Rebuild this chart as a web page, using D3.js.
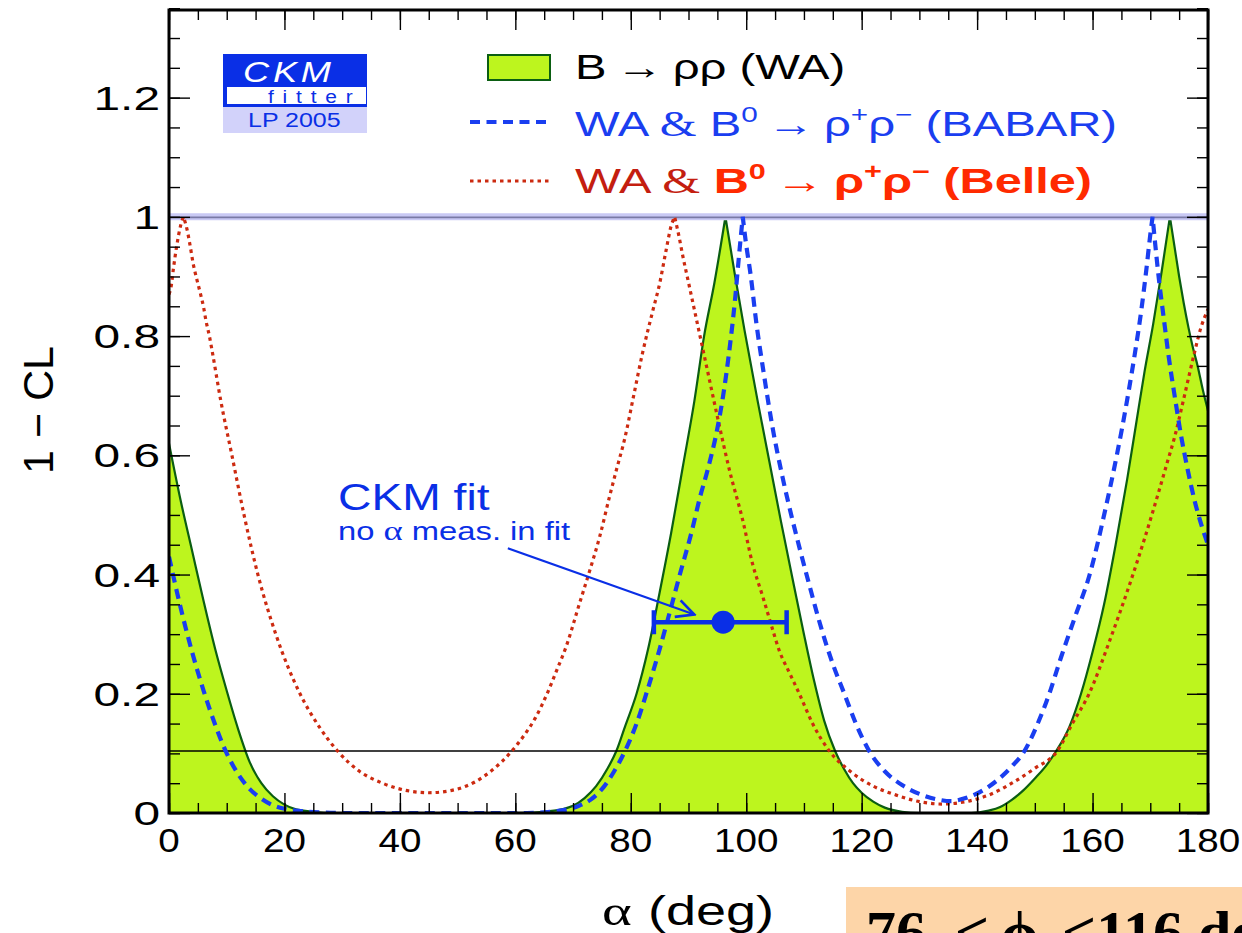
<!DOCTYPE html>
<html>
<head>
<meta charset="utf-8">
<script src="https://cdn.jsdelivr.net/npm/d3@7"></script>
<style>
  html, body { margin: 0; padding: 0; background: #ffffff; overflow: hidden; }
  svg { display: block; }
</style>
</head>
<body>
<svg id="chart" width="1242" height="933"></svg>
<script>
// ---- alpha scan: 1 - CL versus alpha (deg) ----
// B -> rho rho world average (filled)
const alphaWA = [0, 2, 4, 6, 8, 10, 12, 14, 16, 18, 20, 22, 25, 28, 60, 65, 68, 70, 72, 74, 76, 77.5, 79, 81, 83, 85, 87, 89, 91, 92.7, 94.5, 96.4,
  98, 99.7, 102, 104, 106, 108.3, 110, 111.8, 113.5, 115.4, 117, 118.5, 120, 122, 124, 127, 130, 139, 142, 144, 146, 148, 150, 152, 153.7, 156,
  158, 160, 162, 164, 166, 167.5, 169, 170.5, 172, 173.4, 174.2, 175, 175.8, 176.6, 177.4, 178.2, 179.1, 180];
const clWA = [0.62, 0.525, 0.44, 0.355, 0.275, 0.205, 0.14, 0.085, 0.05, 0.028, 0.014, 0.006, 0.002, 0, 0, 0.002, 0.006, 0.012, 0.025, 0.045, 0.075, 0.104, 0.145, 0.2, 0.275, 0.37, 0.47, 0.58, 0.69, 0.8, 0.89, 1.0,
  0.905, 0.81, 0.69, 0.59, 0.49, 0.38, 0.3, 0.22, 0.155, 0.104, 0.073, 0.05, 0.034, 0.019, 0.009, 0.002, 0, 0, 0.004, 0.01, 0.022, 0.038, 0.058, 0.08, 0.104, 0.145,
  0.2, 0.27, 0.35, 0.45, 0.56, 0.65, 0.74, 0.82, 0.91, 1.0, 0.95, 0.9, 0.855, 0.815, 0.78, 0.75, 0.71, 0.675];

// WA & B0 -> rho+ rho- (BABAR)
const alphaBabar = [0, 2, 4, 6, 8, 10, 12, 14, 16, 18, 20, 23, 26, 30, 62, 66, 69, 71, 73, 75, 77, 79, 81, 83, 85, 86.7, 88.5, 90.5, 92, 93.3, 95, 96, 97, 98, 98.8, 99.4,
  99.9, 100.8, 101.7, 103, 104.5, 106.3, 107.8, 109.2, 111, 113, 115, 117, 119, 121.3, 124, 127, 130, 133, 135.5, 138, 141, 143.5, 146, 148.2, 150.5, 152.5,
  154.5, 157, 159.5, 162, 164.2, 165.1, 166.3, 167.4, 168.4, 169.3, 170, 170.4, 170.9, 171.5, 172.4, 173.2, 174.3, 175.3, 176.5, 177.6, 178.8, 180];
const clBabar = [0.43, 0.345, 0.27, 0.205, 0.148, 0.1, 0.065, 0.04, 0.024, 0.013, 0.007, 0.003, 0.001, 0, 0, 0.002, 0.006, 0.012, 0.022, 0.04, 0.068, 0.104, 0.15, 0.21, 0.275, 0.335, 0.4, 0.47, 0.53, 0.575, 0.645, 0.7, 0.77, 0.855, 0.94, 1.0,
  0.96, 0.9, 0.826, 0.74, 0.65, 0.563, 0.5, 0.446, 0.38, 0.31, 0.25, 0.2, 0.15, 0.104, 0.07, 0.047, 0.032, 0.023, 0.02, 0.025, 0.038, 0.055, 0.078, 0.104, 0.15, 0.2,
  0.26, 0.33, 0.4, 0.5, 0.6, 0.645, 0.71, 0.775, 0.84, 0.91, 0.97, 1.0, 0.95, 0.895, 0.825, 0.765, 0.695, 0.635, 0.575, 0.527, 0.485, 0.45];

// WA & B0 -> rho+ rho- (Belle)
const alphaBelle = [0, 0.4, 0.75, 1.3, 2, 2.5, 3.1, 3.6, 4.2, 4.8, 5.4, 6, 6.4, 7, 7.4, 9, 10.9, 13, 15.4, 18.5, 22.7, 26, 29.2, 33, 37, 41, 45, 49, 53, 56, 59.4, 61.5, 63.5, 65.5,
  67.2, 68.8, 71.1, 72.9, 74.6, 76.3, 77.5, 79, 80.5, 82, 83.8, 85, 86.1, 87, 87.6, 88.4, 89, 90, 91, 92, 93, 95, 97.1, 99.4, 101.1, 102.9, 104.6, 105.7, 107.5,
  109.2, 111.5, 114.4, 118, 122, 126, 130, 134, 138, 142, 146, 150, 153.9, 156.5, 159.4, 163, 166.3, 169, 171.5, 173, 174.2, 175.8, 177.6, 178.8, 180];
const clBelle = [0.87, 0.885, 0.912, 0.949, 0.985, 1.0, 0.98, 0.955, 0.921, 0.896, 0.873, 0.848, 0.826, 0.8, 0.779, 0.69, 0.6, 0.5, 0.4, 0.3, 0.2, 0.145, 0.104, 0.07, 0.05, 0.038, 0.034, 0.038, 0.052, 0.072, 0.104, 0.13, 0.16, 0.2,
  0.24, 0.279, 0.351, 0.407, 0.463, 0.53, 0.575, 0.63, 0.7, 0.77, 0.842, 0.888, 0.943, 0.985, 1.0, 0.965, 0.935, 0.89, 0.845, 0.8, 0.755, 0.665, 0.575, 0.491, 0.418, 0.362, 0.307, 0.273, 0.235,
  0.2, 0.15, 0.104, 0.07, 0.045, 0.03, 0.019, 0.015, 0.019, 0.03, 0.05, 0.075, 0.104, 0.15, 0.2, 0.29, 0.38, 0.46, 0.54, 0.59, 0.63, 0.695, 0.77, 0.815, 0.845];

// CKM fit prediction (no alpha measurement in the fit)
const ckmFit = { central: 96, low: 84, high: 107, level: 0.32 };
const ckmArrow = { from: [58.7, 0.444], to: [91, 0.333] };

// Reference lines
const unitLevel = 1.0;
const clLevel = 0.104;

// Axis ticks
const xTicks = [0, 20, 40, 60, 80, 100, 120, 140, 160, 180];
const xTickLabels = ["0", "20", "40", "60", "80", "100", "120", "140", "160", "180"];
const yTicks = [0, 0.2, 0.4, 0.6, 0.8, 1.0, 1.2];
const yTickLabels = ["0", "0.2", "0.4", "0.6", "0.8", "1", "1.2"];

// ---- drawing ----
const svg = d3.select("#chart");
const X0 = 169, X1 = 1208, Y0 = 813, Y1 = 10;
const x = d3.scaleLinear().domain([0, 180]).range([X0, X1]);
const y = d3.scaleLinear().domain([0, 1.347]).range([Y0, Y1]);

const SANS = "'Liberation Sans', Arial, Helvetica, sans-serif";
const SERIF = "'Liberation Serif', 'Times New Roman', serif";

function zip(a, v) { return a.map((d, i) => [d, v[i]]); }
const waPts = zip(alphaWA, clWA);
const babarPts = zip(alphaBabar, clBabar);
const bellePts = zip(alphaBelle, clBelle);

// smooth monotone pieces between peaks, keeping each peak as a sharp cusp
const mono = d3.line().x(d => x(d[0])).y(d => y(d[1])).curve(d3.curveMonotoneX);
function cuspPath(pts) {
  const cuts = [0];
  for (let i = 1; i < pts.length - 1; i++) if (pts[i][1] >= 0.999) cuts.push(i);
  cuts.push(pts.length - 1);
  let d = "";
  for (let k = 0; k < cuts.length - 1; k++) {
    const s = mono(pts.slice(cuts[k], cuts[k + 1] + 1));
    d += k === 0 ? s : "L" + s.slice(1);
  }
  return d;
}

const defs = svg.append("defs");
defs.append("clipPath").attr("id", "plotClip")
  .append("rect").attr("x", X0).attr("y", Y1).attr("width", X1 - X0).attr("height", Y0 - Y1);

const plot = svg.append("g").attr("clip-path", "url(#plotClip)");

// filled WA curve
plot.append("path")
  .attr("d", cuspPath(waPts) + `L${x(180)},${y(0)}L${x(0)},${y(0)}Z`)
  .attr("fill", "#bdf51e");
plot.append("path").attr("d", cuspPath(waPts)).attr("fill", "none")
  .attr("stroke", "#0b5e12").attr("stroke-width", 2.2).attr("stroke-linejoin", "round");

// 1-CL = 1 band and reference level
plot.append("line").attr("x1", X0).attr("x2", X1).attr("y1", y(unitLevel)).attr("y2", y(unitLevel))
  .attr("stroke", "#c9c9f4").attr("stroke-width", 7);
plot.append("line").attr("x1", X0).attr("x2", X1).attr("y1", y(unitLevel) + 0.5).attr("y2", y(unitLevel) + 0.5)
  .attr("stroke", "#7a7aa6").attr("stroke-width", 1.6);
plot.append("line").attr("x1", X0).attr("x2", X1).attr("y1", y(clLevel)).attr("y2", y(clLevel))
  .attr("stroke", "#000").attr("stroke-width", 1.5);

// experiment curves
plot.append("path").attr("d", cuspPath(bellePts)).attr("fill", "none")
  .attr("stroke", "#cc2a10").attr("stroke-width", 3.2).attr("stroke-dasharray", "3.5,4");
plot.append("path").attr("d", cuspPath(babarPts)).attr("fill", "none")
  .attr("stroke", "#1a3ef0").attr("stroke-width", 4.2).attr("stroke-dasharray", "10,6.5");

// axes ticks (inward on all four sides)
const xMinor = d3.range(0, 181, 5);
const yMinor = d3.range(0, 1.3501, 0.05);
function tickAxis(axis, g) {
  g.call(axis).call(s => s.select(".domain").remove());
  g.selectAll(".tick line").attr("stroke", "#000").attr("stroke-width", 1.4);
}
const gx = svg.append("g");
tickAxis(d3.axisBottom(x).tickValues(xMinor).tickSize(-10).tickFormat(""), gx.append("g").attr("transform", `translate(0,${Y0})`));
tickAxis(d3.axisBottom(x).tickValues(xTicks).tickSize(-20).tickFormat(""), gx.append("g").attr("transform", `translate(0,${Y0})`));
tickAxis(d3.axisTop(x).tickValues(xMinor).tickSize(-10).tickFormat(""), gx.append("g").attr("transform", `translate(0,${Y1})`));
tickAxis(d3.axisTop(x).tickValues(xTicks).tickSize(-20).tickFormat(""), gx.append("g").attr("transform", `translate(0,${Y1})`));
const gy = svg.append("g");
tickAxis(d3.axisLeft(y).tickValues(yMinor).tickSize(-11).tickFormat(""), gy.append("g").attr("transform", `translate(${X0},0)`));
tickAxis(d3.axisLeft(y).tickValues(yTicks).tickSize(-21).tickFormat(""), gy.append("g").attr("transform", `translate(${X0},0)`));
tickAxis(d3.axisRight(y).tickValues(yMinor).tickSize(-11).tickFormat(""), gy.append("g").attr("transform", `translate(${X1},0)`));
tickAxis(d3.axisRight(y).tickValues(yTicks).tickSize(-21).tickFormat(""), gy.append("g").attr("transform", `translate(${X1},0)`));

// frame
svg.append("rect").attr("x", X0).attr("y", Y1).attr("width", X1 - X0).attr("height", Y0 - Y1)
  .attr("fill", "none").attr("stroke", "#000").attr("stroke-width", 3);

// text helper: horizontally stretched glyphs
function txt(parent, px, py, opts) {
  const t = parent.append("text")
    .attr("transform", `translate(${px},${py}) scale(${opts.sx || 1},1)` + (opts.rot ? ` rotate(${opts.rot})` : ""))
    .attr("font-family", opts.family || SANS)
    .attr("font-size", opts.size)
    .attr("fill", opts.fill || "#000")
    .attr("font-weight", opts.weight || "normal")
    .attr("text-anchor", opts.anchor || "start")
    .style("white-space", "pre");
  if (opts.text !== undefined) t.text(opts.text);
  return t;
}
function span(t, s, o = {}) {
  const ts = t.append("tspan").text(s);
  if (o.x !== undefined) ts.attr("x", o.x);
  if (o.family) ts.attr("font-family", o.family);
  if (o.fill) ts.attr("fill", o.fill);
  if (o.weight) ts.attr("font-weight", o.weight);
  if (o.size) ts.attr("font-size", o.size);
  if (o.dy) ts.attr("dy", o.dy);
  if (o.style) ts.attr("font-style", o.style);
  return ts;
}

// tick labels
xTicks.forEach((v, i) => txt(svg, x(v), 852, { text: xTickLabels[i], size: 33, anchor: "middle", sx: 1.17 }));
yTicks.forEach((v, i) => txt(svg, 160, y(v) + 12, { text: yTickLabels[i], size: 33, anchor: "end", sx: 1.45 }));

// axis titles
const xt = txt(svg, 602, 925, { size: 40, sx: 1.35 });
span(xt, "α", { family: SERIF, size: 42 });
span(xt, "(deg)", { x: 34 });
txt(svg, 53, 410, { text: "1 − CL", size: 43, anchor: "middle", rot: -90 });

// legend
const LX = 470;
svg.append("rect").attr("x", 488).attr("y", 55).attr("width", 62).attr("height", 25)
  .attr("fill", "#bdf51e").attr("stroke", "#0b5e12").attr("stroke-width", 2);
svg.append("line").attr("x1", LX).attr("x2", 547).attr("y1", 122).attr("y2", 122)
  .attr("stroke", "#1a3ef0").attr("stroke-width", 4.2).attr("stroke-dasharray", "10,6.5");
svg.append("line").attr("x1", LX).attr("x2", 550).attr("y1", 181).attr("y2", 181)
  .attr("stroke", "#cc2a10").attr("stroke-width", 3.2).attr("stroke-dasharray", "3.5,4");

const TS = "\u2009";
const l1 = txt(svg, 575, 79, { size: 35, sx: 1.35 });
span(l1, "B" + TS + "→" + TS + "ρρ (WA)");
const l2 = txt(svg, 575, 136, { size: 35, sx: 1.35, fill: "#1a3ef0" });
span(l2, "WA ");
span(l2, "&", { family: SERIF });
span(l2, " B");
span(l2, "0", { size: 22, dy: -14 });
span(l2, TS + "→" + TS, { dy: 14 });
span(l2, "ρ");
span(l2, "+", { size: 22, dy: -14 });
span(l2, "ρ", { dy: 14 });
span(l2, "−", { size: 22, dy: -14 });
span(l2, " (BABAR)", { dy: 14 });
const l3 = txt(svg, 575, 193, { size: 35, sx: 1.39, fill: "#c41e10" });
span(l3, "WA ");
span(l3, "&", { family: SERIF });
span(l3, " B", { fill: "#ff2a00", weight: "bold" });
span(l3, "0", { size: 22, dy: -14, fill: "#ff2a00", weight: "bold" });
span(l3, TS + "→" + TS + "ρ", { dy: 14, fill: "#ff2a00", weight: "bold" });
span(l3, "+", { size: 22, dy: -14, fill: "#ff2a00", weight: "bold" });
span(l3, "ρ", { dy: 14, fill: "#ff2a00", weight: "bold" });
span(l3, "−", { size: 22, dy: -14, fill: "#ff2a00", weight: "bold" });
span(l3, " (Belle)", { dy: 14, fill: "#ff2a00", weight: "bold" });

// CKMfitter logo
const logo = svg.append("g");
logo.append("rect").attr("x", 223).attr("y", 54).attr("width", 144).attr("height", 53).attr("fill", "#0a2fe6");
logo.append("rect").attr("x", 227).attr("y", 87).attr("width", 139).attr("height", 17).attr("fill", "#fff");
logo.append("rect").attr("x", 223).attr("y", 107).attr("width", 144).attr("height", 26).attr("fill", "#d2d2fa");
txt(logo, 243, 82, { text: "CKM", size: 29, fill: "#fff", sx: 1.25 }).attr("font-style", "italic").attr("letter-spacing", 3);
txt(logo, 268, 103, { text: "fitter", size: 19, fill: "#0a2fe6", sx: 1.1 }).attr("letter-spacing", 8);
txt(logo, 248, 127, { text: "LP 2005", size: 20, fill: "#0a2fe6", sx: 1.25 });

// CKM fit annotation
const blue = "#0a2fe6";
txt(svg, 338, 510, { text: "CKM fit", size: 37, fill: blue, sx: 1.25 });
const nt = txt(svg, 338, 540, { size: 25, fill: blue, sx: 1.31 });
span(nt, "no ");
span(nt, "α", { family: SERIF, size: 28 });
span(nt, " meas. in fit");

defs.append("marker").attr("id", "openHead")
  .attr("viewBox", "0 0 20 20").attr("refX", 18).attr("refY", 10)
  .attr("markerWidth", 22).attr("markerHeight", 22).attr("markerUnits", "userSpaceOnUse")
  .attr("orient", "auto")
  .append("path").attr("d", "M2,2 L18,10 L2,18").attr("fill", "none").attr("stroke", blue).attr("stroke-width", 2.4);
svg.append("line")
  .attr("x1", x(ckmArrow.from[0])).attr("y1", y(ckmArrow.from[1]))
  .attr("x2", x(ckmArrow.to[0])).attr("y2", y(ckmArrow.to[1]))
  .attr("stroke", blue).attr("stroke-width", 2).attr("marker-end", "url(#openHead)");

const yc = y(ckmFit.level);
svg.append("line").attr("x1", x(ckmFit.low)).attr("x2", x(ckmFit.high)).attr("y1", yc).attr("y2", yc)
  .attr("stroke", blue).attr("stroke-width", 4.5);
[ckmFit.low, ckmFit.high].forEach(v => svg.append("line").attr("x1", x(v)).attr("x2", x(v))
  .attr("y1", yc - 12).attr("y2", yc + 12).attr("stroke", blue).attr("stroke-width", 4.5));
svg.append("circle").attr("cx", x(ckmFit.central)).attr("cy", yc).attr("r", 11.5).attr("fill", blue);

// phi2 range box
svg.append("rect").attr("x", 846).attr("y", 887).attr("width", 400).attr("height", 50).attr("fill", "#fdd5a8");
const pb = svg.append("text").attr("font-family", SERIF).attr("font-weight", "bold").attr("font-size", 60).attr("fill", "#000").attr("y", 952);
pb.append("tspan").attr("x", 866).text("76");
pb.append("tspan").attr("x", 955).text("<");
pb.append("tspan").attr("x", 1001).text("ϕ");
pb.append("tspan").attr("x", 1062).text("<116 deg");
</script>
</body>
</html>
